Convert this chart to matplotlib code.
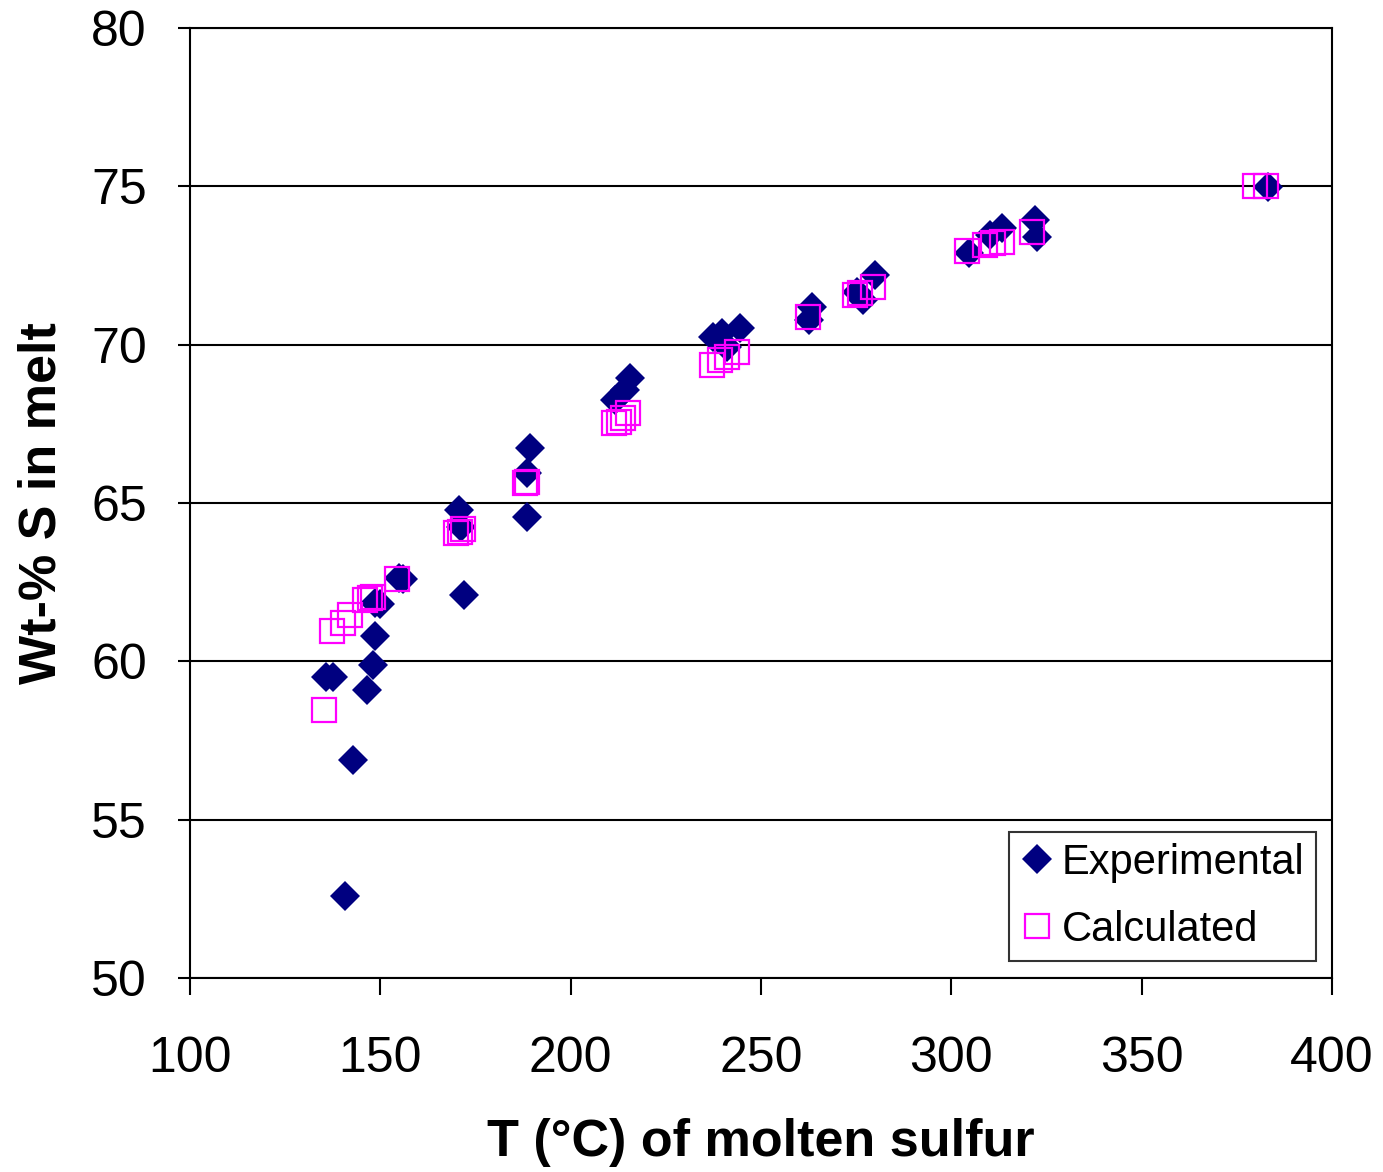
import matplotlib
matplotlib.use("Agg")
import matplotlib.pyplot as plt

plt.rcParams['font.family'] = ['Liberation Sans', 'DejaVu Sans']

# Experimental points (T in °C, wt-% S)
exp_T = [135.7, 137.6, 140.7, 142.9, 146.4, 148.0, 148.6, 148.6, 149.8, 155.0, 156.0,
         170.7, 171.2, 172.1, 188.4, 188.4, 189.3, 211.6, 214.3, 215.6,
         237.5, 239.7, 241.0, 244.5, 262.7, 263.3, 275.1, 276.9, 279.9,
         304.7, 310.1, 313.2, 322.0, 322.4, 383.2]
exp_S = [59.52, 59.52, 52.59, 56.89, 59.10, 59.89, 60.81, 61.85, 61.80, 62.62, 62.60,
         64.77, 64.25, 62.10, 64.57, 65.94, 66.73, 68.25, 68.57, 68.95,
         70.25, 70.36, 69.94, 70.52, 70.78, 71.20, 71.67, 71.41, 72.20,
         72.89, 73.46, 73.67, 73.94, 73.41, 74.99]

# Calculated points
calc_T = [135.2, 137.2, 140.1, 142.0, 146.0, 147.3, 148.2, 154.5,
          170.0, 170.9, 171.6, 188.0, 188.5, 211.5, 212.8, 213.8, 215.1,
          237.0, 239.2, 241.0, 243.6, 262.4, 274.7, 276.0, 279.3,
          304.2, 308.8, 311.0, 313.2, 321.3, 379.7, 382.8]
calc_S = [58.47, 60.97, 61.20, 61.46, 61.94, 61.99, 62.04, 62.59,
          64.04, 64.10, 64.17, 65.62, 65.67, 67.52, 67.57, 67.68, 67.83,
          69.36, 69.52, 69.62, 69.78, 70.88, 71.57, 71.62, 71.83,
          72.97, 73.15, 73.20, 73.25, 73.57, 75.01, 75.01]

fig = plt.figure(figsize=(13.83, 11.72), dpi=100)
ax = fig.add_axes([0.1374, 0.1655, 0.8257, 0.8106])

ax.plot(exp_T, exp_S, linestyle='none', marker='D', markersize=14.8,
        markerfacecolor='#000080', markeredgewidth=0, label='Experimental', zorder=3)
ax.plot(calc_T, calc_S, linestyle='none', marker='s', markersize=17,
        markerfacecolor='none', markeredgecolor='#FF00FF', markeredgewidth=1.6,
        label='Calculated', zorder=4)

ax.set_xlim(100, 400)
ax.set_ylim(50, 80)
ax.set_xticks(range(100, 401, 50))
ax.set_yticks(range(50, 81, 5))
ax.yaxis.grid(True, color='black', linewidth=1.5)
ax.set_axisbelow(True)

for sp in ax.spines.values():
    sp.set_linewidth(1.5)
    sp.set_color('black')

ax.tick_params(axis='y', direction='out', length=9, width=1.5, labelsize=36, pad=22)
ax.tick_params(axis='x', direction='out', length=12, width=1.5, labelsize=36, pad=30)

ax.set_xlabel('T (°C) of molten sulfur', fontsize=37.5, fontweight='bold', labelpad=26)
ax.set_ylabel('Wt-% S in melt', fontsize=37.5, fontweight='bold', labelpad=18)

leg = ax.legend(loc='lower right', bbox_to_anchor=(0.986, 0.018), borderaxespad=0,
                fontsize=30, frameon=True, fancybox=False, edgecolor='black',
                handlelength=0.8, handletextpad=0.2, borderpad=0.27, labelspacing=0.64)
leg.get_frame().set_linewidth(1.5)

fig.savefig('out.png', dpi=100)
